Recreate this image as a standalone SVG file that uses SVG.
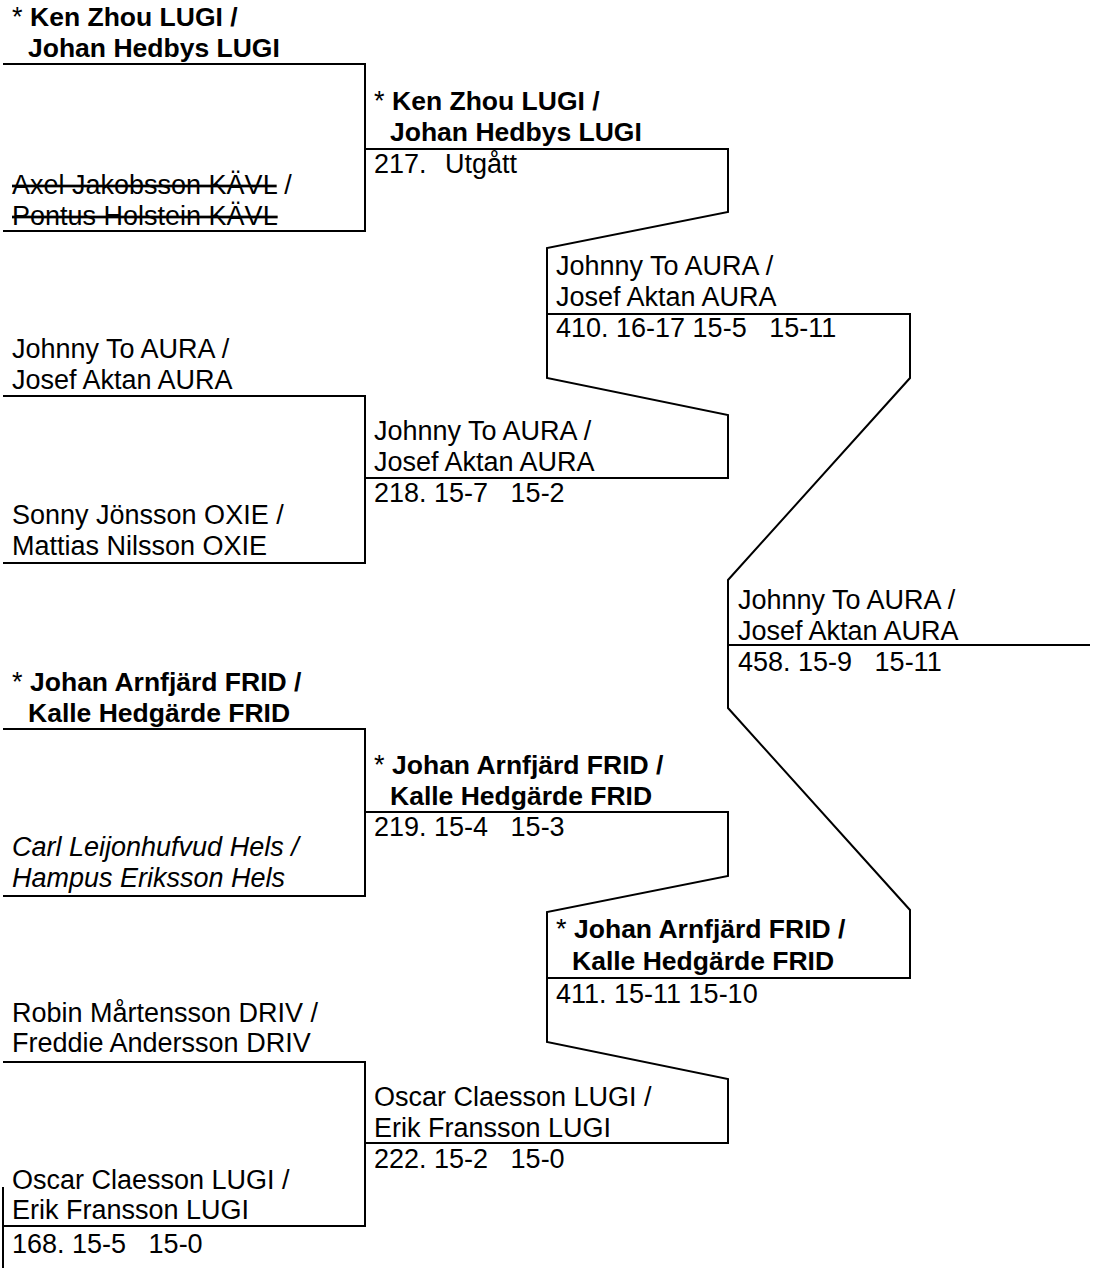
<svg xmlns="http://www.w3.org/2000/svg" width="1101" height="1268" viewBox="0 0 1101 1268">
<style>
text{font-family:"Liberation Sans",Arial,sans-serif;font-size:27px;fill:#000;white-space:pre}
.b{font-weight:bold;font-size:26.5px}
.i{font-style:italic}
.s{text-decoration:line-through}
.ln{fill:none;stroke:#000;stroke-width:2}
</style>
<rect width="1101" height="1268" fill="#fff"/>
<g id="connectors" class="ln">
<path d="M3,64 H365 V231 H3"/>
<path d="M365,149 H728 V212 L547,248 V378 L728,415 V478 H365"/>
<path d="M3,396 H365 V563 H3"/>
<path d="M547,314 H910 V378 L728,580 V708 L910,910 V978 H547"/>
<path d="M728,645 H1090"/>
<path d="M3,729 H365 V896 H3"/>
<path d="M365,812 H728 V876 L547,912 V1042 L728,1079 V1143 H365"/>
<path d="M3,1062 H365 V1226 H3"/>
<path d="M3,1187 V1268"/>
</g>
<g id="n-kenzhou-r1">
<text x="12" y="26">* <tspan class="b">Ken Zhou LUGI /</tspan></text>
<text x="28" y="57" class="b">Johan Hedbys LUGI</text>
</g>
<g id="n-axel">
<text x="12" y="194"><tspan class="s">Axel Jakobsson KÄVL</tspan> /</text>
<text x="12" y="225"><tspan class="s">Pontus Holstein KÄVL</tspan></text>
</g>
<g id="n-217">
<text x="374" y="110">* <tspan class="b">Ken Zhou LUGI /</tspan></text>
<text x="390" y="141" class="b">Johan Hedbys LUGI</text>
<text x="374" y="173">217.  <tspan x="445">Utgått</tspan></text>
</g>
<g id="n-johnny-r1">
<text x="12" y="358">Johnny To AURA /</text>
<text x="12" y="389">Josef Aktan AURA</text>
</g>
<g id="n-sonny">
<text x="12" y="524">Sonny Jönsson OXIE /</text>
<text x="12" y="555">Mattias Nilsson OXIE</text>
</g>
<g id="n-218">
<text x="374" y="440">Johnny To AURA /</text>
<text x="374" y="471">Josef Aktan AURA</text>
<text x="374" y="502">218. 15-7   15-2</text>
</g>
<g id="n-410">
<text x="556" y="275">Johnny To AURA /</text>
<text x="556" y="306">Josef Aktan AURA</text>
<text x="556" y="337">410. 16-17 15-5   15-11</text>
</g>
<g id="n-458">
<text x="738" y="609">Johnny To AURA /</text>
<text x="738" y="640">Josef Aktan AURA</text>
<text x="738" y="671">458. 15-9   15-11</text>
</g>
<g id="n-johan-r1">
<text x="12" y="691">* <tspan class="b">Johan Arnfjärd FRID /</tspan></text>
<text x="28" y="722" class="b">Kalle Hedgärde FRID</text>
</g>
<g id="n-carl">
<text x="12" y="856" class="i">Carl Leijonhufvud Hels /</text>
<text x="12" y="887" class="i">Hampus Eriksson Hels</text>
</g>
<g id="n-219">
<text x="374" y="774">* <tspan class="b">Johan Arnfjärd FRID /</tspan></text>
<text x="390" y="805" class="b">Kalle Hedgärde FRID</text>
<text x="374" y="836">219. 15-4   15-3</text>
</g>
<g id="n-411">
<text x="556" y="938">* <tspan class="b">Johan Arnfjärd FRID /</tspan></text>
<text x="572" y="970" class="b">Kalle Hedgärde FRID</text>
<text x="556" y="1003">411. 15-11 15-10</text>
</g>
<g id="n-robin">
<text x="12" y="1022">Robin Mårtensson DRIV /</text>
<text x="12" y="1052">Freddie Andersson DRIV</text>
</g>
<g id="n-222">
<text x="374" y="1106">Oscar Claesson LUGI /</text>
<text x="374" y="1137">Erik Fransson LUGI</text>
<text x="374" y="1168">222. 15-2   15-0</text>
</g>
<g id="n-168">
<text x="12" y="1189">Oscar Claesson LUGI /</text>
<text x="12" y="1219">Erik Fransson LUGI</text>
<text x="12" y="1253">168. 15-5   15-0</text>
</g>
</svg>
